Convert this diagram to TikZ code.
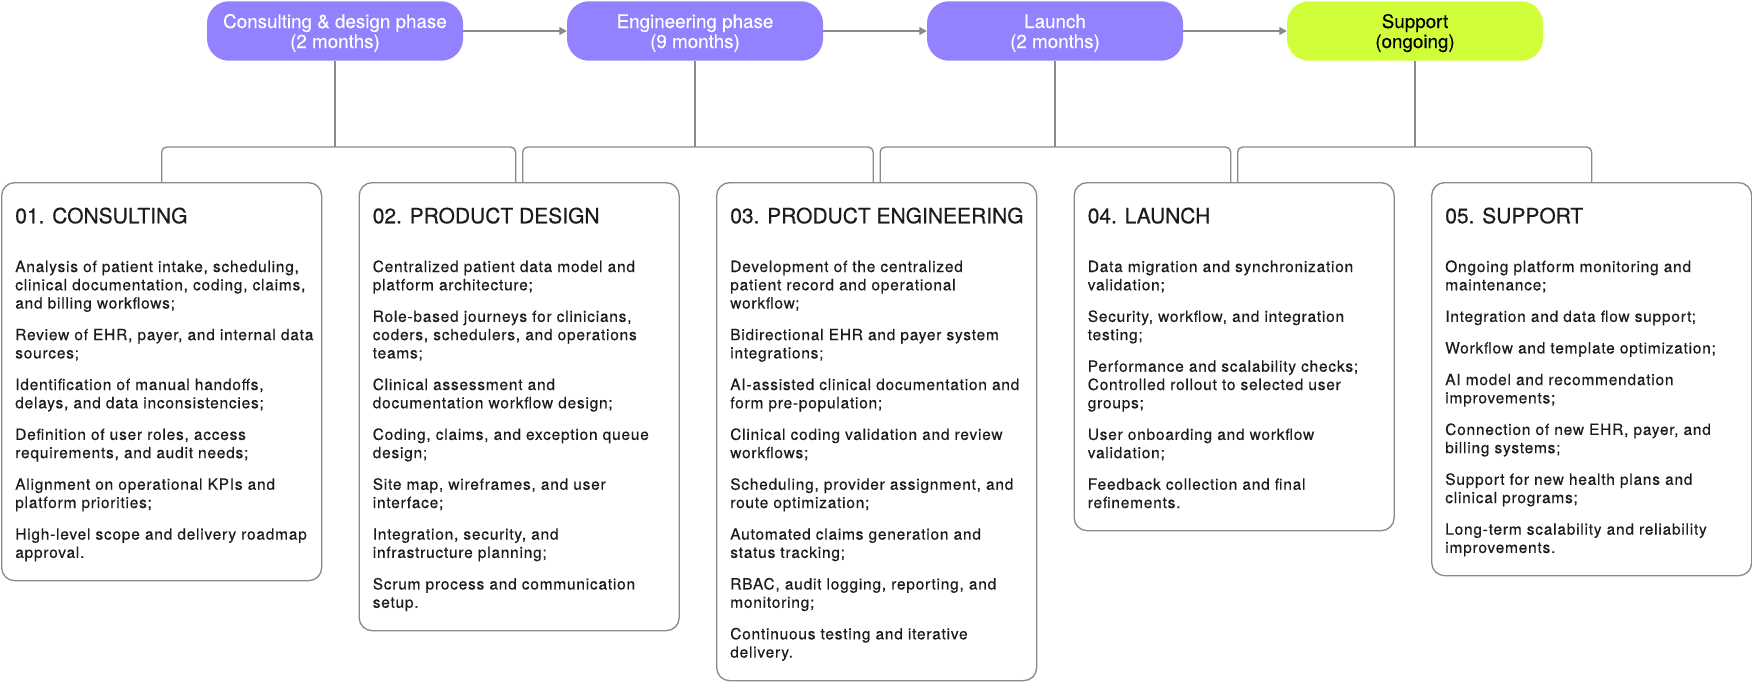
\documentclass[tikz,border=0pt]{standalone}
\usepackage{fontspec}
\setmainfont{TeX Gyre Heros}
\newfontfamily\bodyfont[LetterSpace=5,FakeBold=0.45]{TeX Gyre Heros}
\newfontfamily\headfont[FakeBold=0.5]{TeX Gyre Heros}
\newfontfamily\phasefont[FakeBold=0.25]{TeX Gyre Heros}
\usetikzlibrary{arrows.meta,calc}
\definecolor{phasepurple}{RGB}{146,130,255}
\definecolor{phaselime}{RGB}{208,255,58}
\definecolor{linegray}{RGB}{138,138,138}
\definecolor{inkdark}{RGB}{28,28,28}
\tikzset{
  phasebox/.style={draw=none, rounded corners=16.5pt, minimum width=192pt,
    minimum height=44.6pt, inner sep=0pt, align=center,
    font=\phasefont\fontsize{14.1pt}{15pt}\selectfont},
  stagebox/.style={draw=linegray, line width=1pt, rounded corners=9.75pt,
    minimum width=240pt, inner sep=0pt, anchor=north west},
  titletext/.style={anchor=north west, inner sep=0pt, text=inkdark,
    font=\headfont\fontsize{15.75pt}{18pt}\selectfont},
  bodytext/.style={anchor=north west, inner sep=0pt, text=inkdark, align=left,
    font=\bodyfont\fontsize{11.6pt}{13.7pt}\selectfont},
  conn/.style={draw=linegray, line width=1pt},
  flowarrow/.style={draw=linegray, line width=1pt, -{Triangle[length=5.5pt,width=6pt]}}
}
\newcommand{\tstrut}{\rule{0pt}{12pt}}
\newcommand{\bstrut}{\rule{0pt}{10pt}}
\newcommand{\phtop}{\rule{0pt}{13.9pt}}
\newcommand{\phbot}{\rule[-3.4pt]{0pt}{3.4pt}}
\begin{document}
\begin{tikzpicture}[x=0.75pt,y=-0.75pt]
\useasboundingbox (0,0) rectangle (1752,682);

% phase nodes
\node[phasebox, fill=phasepurple, text=white] (p1) at (335,31) {\phtop Consulting \& design phase\\(2 months)\phbot};
\node[phasebox, fill=phasepurple, text=white] (p2) at (695,31) {\phtop Engineering phase\\(9 months)\phbot};
\node[phasebox, fill=phasepurple, text=white] (p3) at (1055,31) {\phtop Launch\\(2 months)\phbot};
\node[phasebox, fill=phaselime, text=black] (p4) at (1415,31) {\phtop Support\\(ongoing)\phbot};

\draw[flowarrow] (p1.east) -- (p2.west);
\draw[flowarrow] (p2.east) -- (p3.west);
\draw[flowarrow] (p3.east) -- (p4.west);

% stage boxes
\node[stagebox, minimum height=298.5pt] (b1) at (1,182) {};
\node[stagebox, minimum height=336pt] (b2) at (358.5,182) {};
\node[stagebox, minimum height=373.5pt] (b3) at (716,182) {};
\node[stagebox, minimum height=261pt] (b4) at (1073.5,182) {};
\node[stagebox, minimum height=294.75pt] (b5) at (1431,182) {};

% connectors
\coordinate (j1) at (335,147);
\coordinate (j2) at (695,147);
\coordinate (j3) at (1055,147);
\coordinate (j4) at (1415,147);
\draw[conn] (p1.south) -- (j1);
\draw[conn] (p2.south) -- (j2);
\draw[conn] (p3.south) -- (j3);
\draw[conn] (p4.south) -- (j4);
\draw[conn, rounded corners=3.75pt] (b1.north) |- (j1) -| ($(b2.north)+(-3.5,0)$);
\draw[conn, rounded corners=3.75pt] ($(b2.north)+(3.5,0)$) |- (j2) -| ($(b3.north)+(-3.5,0)$);
\draw[conn, rounded corners=3.75pt] ($(b3.north)+(3.5,0)$) |- (j3) -| ($(b4.north)+(-3.5,0)$);
\draw[conn, rounded corners=3.75pt] ($(b4.north)+(3.5,0)$) |- (j4) -| (b5.north);

% titles
\node[titletext] (t1) at ($(b1.north west)+(14,25)$) {\tstrut 01. CONSULTING};
\node[titletext] (t2) at ($(b2.north west)+(14,25)$) {\tstrut 02. PRODUCT DESIGN};
\node[titletext] (t3) at ($(b3.north west)+(14,25)$) {\tstrut 03. PRODUCT ENGINEERING};
\node[titletext] (t4) at ($(b4.north west)+(14,25)$) {\tstrut 04. LAUNCH};
\node[titletext] (t5) at ($(b5.north west)+(14,25)$) {\tstrut 05. SUPPORT};

% bodies
\node[bodytext] (x1) at ($(b1.north west)+(14,76.4)$) {\bstrut Analysis of patient intake, scheduling,\\clinical documentation, coding, claims,\\and billing workflows;\\[10pt]Review of EHR, payer, and internal data\\sources;\\[10pt]Identification of manual handoffs,\\delays, and data inconsistencies;\\[10pt]Definition of user roles, access\\requirements, and audit needs;\\[10pt]Alignment on operational KPIs and\\platform priorities;\\[10pt]High-level scope and delivery roadmap\\approval.};

\node[bodytext] (x2) at ($(b2.north west)+(14,76.4)$) {\bstrut Centralized patient data model and\\platform architecture;\\[10pt]Role-based journeys for clinicians,\\coders, schedulers, and operations\\teams;\\[10pt]Clinical assessment and\\documentation workflow design;\\[10pt]Coding, claims, and exception queue\\design;\\[10pt]Site map, wireframes, and user\\interface;\\[10pt]Integration, security, and\\infrastructure planning;\\[10pt]Scrum process and communication\\setup.};

\node[bodytext] (x3) at ($(b3.north west)+(14,76.4)$) {\bstrut Development of the centralized\\patient record and operational\\workflow;\\[10pt]Bidirectional EHR and payer system\\integrations;\\[10pt]AI-assisted clinical documentation and\\form pre-population;\\[10pt]Clinical coding validation and review\\workflows;\\[10pt]Scheduling, provider assignment, and\\route optimization;\\[10pt]Automated claims generation and\\status tracking;\\[10pt]RBAC, audit logging, reporting, and\\monitoring;\\[10pt]Continuous testing and iterative\\delivery.};

\node[bodytext] (x4) at ($(b4.north west)+(14,76.4)$) {\bstrut Data migration and synchronization\\validation;\\[10pt]Security, workflow, and integration\\testing;\\[10pt]Performance and scalability checks;\\Controlled rollout to selected user\\groups;\\[10pt]User onboarding and workflow\\validation;\\[10pt]Feedback collection and final\\refinements.};

\node[bodytext] (x5) at ($(b5.north west)+(14,76.4)$) {\bstrut Ongoing platform monitoring and\\maintenance;\\[10pt]Integration and data flow support;\\[10pt]Workflow and template optimization;\\[10pt]AI model and recommendation\\improvements;\\[10pt]Connection of new EHR, payer, and\\billing systems;\\[10pt]Support for new health plans and\\clinical programs;\\[10pt]Long-term scalability and reliability\\improvements.};
\end{tikzpicture}
\end{document}
